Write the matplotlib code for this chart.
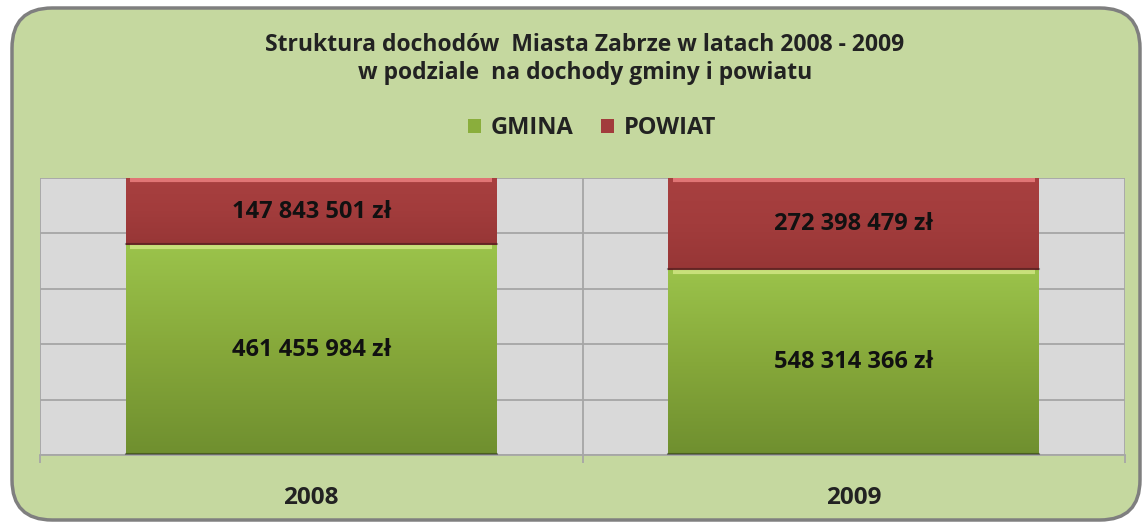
import matplotlib
matplotlib.use("Agg")
import matplotlib.pyplot as plt
import numpy as np
from matplotlib.patches import FancyBboxPatch, Patch
from matplotlib.colors import LinearSegmentedColormap

years = ["2008", "2009"]
gmina = [461455984, 548314366]
powiat = [147843501, 272398479]
series_names = ["GMINA", "POWIAT"]
title_lines = ["Struktura dochodów  Miasta Zabrze w latach 2008 - 2009",
               "w podziale  na dochody gminy i powiatu"]

FONT = ["Open Sans", "DejaVu Sans"]
plt.rcParams['font.family'] = FONT

W, H = 1147, 528
fig = plt.figure(figsize=(W/100, H/100), dpi=100)
fig.patch.set_facecolor("white")

box = FancyBboxPatch((12/W, 8/H), (1140-12)/W, (522-10)/H,
                     boxstyle="round,pad=0,rounding_size=0.035",
                     transform=fig.transFigure, facecolor="#C5D89F",
                     edgecolor="#7F7F7F", linewidth=2.5, zorder=-10,
                     mutation_aspect=W/H)
fig.patches.append(box)

ax = fig.add_axes([40/W, 1-455/H, (1125-40)/W, (455-178)/H])
ax.set_zorder(1)
ax.set_facecolor("#D9D9D9")

tot = np.array(gmina, float) + np.array(powiat, float)
g_frac = np.array(gmina) / tot
p_frac = np.array(powiat) / tot
x = np.arange(len(years))
bw = 0.683

gcmap = LinearSegmentedColormap.from_list("g", ["#6F8F2F", "#86A83A", "#9BC34B"])
rcmap = LinearSegmentedColormap.from_list("r", ["#973636", "#A23C3C", "#A84040"])

def grad_bar(x0, b, h, cmap, hl):
    bars = ax.bar(x0, h, bw, bottom=b, color="none", edgecolor="none", zorder=3)
    for r in bars:
        x1, y1 = r.get_x(), r.get_y()
        grad = np.linspace(0, 1, 256).reshape(-1, 1)
        im = ax.imshow(grad, extent=[x1, x1 + r.get_width(), y1, y1 + r.get_height()],
                       origin="lower", cmap=cmap, aspect="auto", zorder=2)
        im.set_clip_path(r)
        ax.plot([x1 + 0.008, x1 + r.get_width() - 0.008], [y1 + r.get_height() - 0.006]*2,
                color=hl, lw=3, zorder=4, solid_capstyle="butt")
        ax.plot([x1, x1 + r.get_width()], [y1 + 0.003]*2, color="#00000055", lw=1.5, zorder=4)
    return bars

grad_bar(x, 0, g_frac, gcmap, "#C8E07A")
grad_bar(x, g_frac, p_frac, rcmap, "#E07575")

for i in range(len(years)):
    ax.text(x[i], g_frac[i]/2, f"{gmina[i]:,} zł".replace(",", " "),
            ha="center", va="center", fontsize=17, fontweight="bold", color="#111111", zorder=5)
    ax.text(x[i], g_frac[i] + p_frac[i]/2, f"{powiat[i]:,} zł".replace(",", " "),
            ha="center", va="center", fontsize=17, fontweight="bold", color="#111111", zorder=5)

ax.set_xlim(-0.5, len(years) - 0.5)
ax.set_ylim(0, 1)
ax.set_yticks(np.linspace(0, 1, 6))
ax.yaxis.grid(True, color="#A6A6A6", lw=1.3)
ax.set_axisbelow(True)
for xv in np.arange(-0.5, len(years), 1.0):
    ax.axvline(xv, color="#A6A6A6", lw=1.3, zorder=1)
ax.tick_params(axis="y", length=0, labelleft=False)
ax.set_xticks(x)
ax.set_xticklabels(years, fontsize=17.5, fontweight="bold", color="#222222")
ax.tick_params(axis="x", length=0, pad=22)
ax.set_xticks(np.arange(-0.5, len(years), 1.0), minor=True)
ax.tick_params(axis="x", which="minor", length=6, color="#A6A6A6", width=1.3)
for s in ax.spines.values():
    s.set_visible(False)
ax.spines["bottom"].set_visible(True)
ax.spines["bottom"].set_color("#A6A6A6")
ax.spines["bottom"].set_linewidth(1.3)

fig.text(585/W, 1-45/H, title_lines[0], ha="center", va="center",
         fontsize=16.5, fontweight="bold", color="#222222")
fig.text(585/W, 1-73/H, title_lines[1], ha="center", va="center",
         fontsize=16.5, fontweight="bold", color="#222222")

handles = [Patch(facecolor="#8AAE3C", edgecolor="none"),
           Patch(facecolor="#A23C3C", edgecolor="none")]
leg = fig.legend(handles, series_names, loc="center", bbox_to_anchor=(592/W, 1-128/H),
                 ncol=2, frameon=False, handlelength=0.55, handleheight=0.55,
                 handletextpad=0.4, columnspacing=1.2,
                 prop={"family": FONT, "weight": "bold", "size": 17})
for t in leg.get_texts():
    t.set_color("#222222")

fig.savefig("out.png", dpi=100)
